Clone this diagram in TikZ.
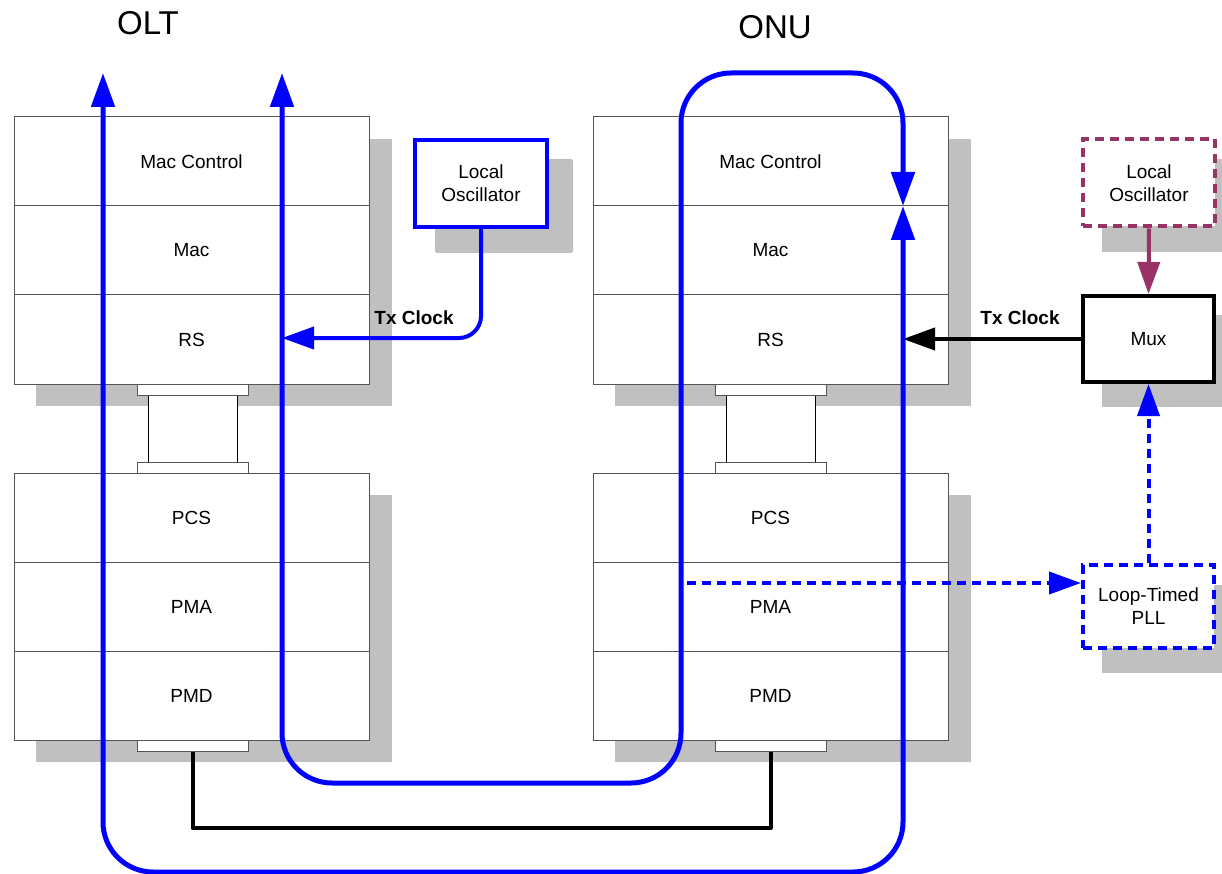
\documentclass[tikz,border=0pt]{standalone}
\usepackage{fontspec}
\setmainfont{Liberation Sans}
\usetikzlibrary{arrows.meta}
\definecolor{pureblue}{RGB}{0,0,255}
\definecolor{plum}{RGB}{153,51,102}
\definecolor{shade}{RGB}{192,192,192}
\definecolor{edge}{RGB}{85,85,85}
\tikzset{
  bigtip/.tip={Triangle[length=34pt,width=23pt]},
  smalltip/.tip={Triangle[length=32pt,width=22pt]}
}
\begin{document}
\begin{tikzpicture}[x=1pt,y=-1pt,
  txt/.style={font=\fontsize{19}{23}\selectfont},
  layer/.style={txt,draw=edge,line width=1pt,fill=white,minimum width=355pt,minimum height=89pt,inner sep=0pt},
  flange/.style={draw=edge,line width=1pt,fill=white,minimum width=111pt,minimum height=11pt,inner sep=0pt},
  body/.style={draw=black,line width=1pt,fill=white,minimum width=89pt,minimum height=67pt,inner sep=0pt},
  sidebox/.style={txt,fill=white,minimum width=131pt,minimum height=86pt,inner sep=0pt,align=center},
  shadowbox/.style={fill=shade},
  bluepath/.style={draw=pureblue,line width=5pt,rounded corners=50pt},
  clocklbl/.style={font=\bfseries\fontsize{19}{23}\selectfont},
  title/.style={font=\fontsize{33}{36}\selectfont}
]
\useasboundingbox (0,0) rectangle (1222,874);

% shadows
\fill[shadowbox] (36,139) rectangle (392,406);
\fill[shadowbox] (36,495) rectangle (392,762);
\fill[shadowbox] (615,139) rectangle (971,406);
\fill[shadowbox] (615,495) rectangle (971,762);
\fill[shadowbox,rounded corners=2pt] (435,159) rectangle (573,253);
\fill[shadowbox] (1102,159) rectangle (1240,252);
\fill[shadowbox] (1102,315) rectangle (1240,407);
\fill[shadowbox] (1102,585) rectangle (1240,673);

% titles
\node[title] (olttitle) at (148,23) {OLT};
\node[title] (onutitle) at (775,27) {ONU};

% OLT stack
\node[layer] (oltmc) at (191.5,161.5) {Mac Control};
\node[layer] (oltmac) at (191.5,250.5) {Mac};
\node[layer] (oltrs) at (191.5,339.5) {RS};
\node[layer] (oltpcs) at (191.5,517.5) {PCS};
\node[layer] (oltpma) at (191.5,606.5) {PMA};
\node[layer] (oltpmd) at (191.5,695.5) {PMD};
\node[body] (oltbody) at (192.5,428.5) {};
\node[flange] (oltfup) at (192.5,389.5) {};
\node[flange] (oltflo) at (192.5,467.5) {};
\node[flange] (oltport) at (192.5,745.5) {};

% ONU stack
\node[layer] (onumc) at (770.5,161.5) {Mac Control};
\node[layer] (onumac) at (770.5,250.5) {Mac};
\node[layer] (onurs) at (770.5,339.5) {RS};
\node[layer] (onupcs) at (770.5,517.5) {PCS};
\node[layer] (onupma) at (770.5,606.5) {PMA};
\node[layer] (onupmd) at (770.5,695.5) {PMD};
\node[body] (onubody) at (771,428.5) {};
\node[flange] (onufup) at (771,389.5) {};
\node[flange] (onuflo) at (771,467.5) {};
\node[flange] (onuport) at (771,745.5) {};

% fibre between ports
\coordinate (fibl) at (192.5,828);
\coordinate (fibr) at (771,828);
\draw[black,line width=4pt,line join=round] (oltport.south) -- (fibl) -- (fibr) -- (onuport.south);

% OLT local oscillator
\node[sidebox,draw=pureblue,line width=4pt,minimum width=132pt,minimum height=87pt] (oltosc) at (481,183.5) {Local\\Oscillator};
\coordinate (oltrsin) at (282,338);
\draw[pureblue,line width=4pt,rounded corners=22pt,-smalltip] (oltosc.south) |- (oltrsin);
\node[clocklbl] (oltclk) at (414,318) {Tx Clock};

% ONU side boxes
\node[sidebox,draw=plum,line width=4pt,dash pattern=on 9pt off 6pt,minimum width=132pt,minimum height=87pt] (onuosc) at (1149,183) {Local\\Oscillator};
\node[sidebox,draw=black,line width=4pt] (mux) at (1148.5,339) {Mux};
\node[sidebox,draw=pureblue,line width=4pt,dash pattern=on 9pt off 6pt,minimum height=83pt] (pll) at (1148.5,606.5) {Loop-Timed\\PLL};

\draw[plum,line width=4pt,-smalltip] (onuosc.south) -- (mux.north);
\draw[pureblue,line width=4pt,dash pattern=on 9pt off 6pt,-smalltip] (pll.north) -- (mux.south);
\coordinate (onursin) at (903,339);
\draw[black,line width=4pt,-smalltip] (mux.west) -- (onursin);
\node[clocklbl] (onuclk) at (1020,318) {Tx Clock};

\coordinate (pllsrc) at (687,583);
\draw[pureblue,line width=4pt,dash pattern=on 9pt off 6pt,-smalltip] (pllsrc) -- (pllsrc -| pll.west);

% blue data paths
\coordinate (o1) at (103,73);
\coordinate (o2) at (103,872);
\coordinate (o3) at (903,872);
\coordinate (meet) at (903,206);
\draw[bluepath,bigtip-bigtip] (o1) -- (o2) -- (o3) -- (meet);

\coordinate (i1) at (282,73);
\coordinate (i2) at (282,783);
\coordinate (i3) at (681,783);
\coordinate (i4) at (681,73);
\coordinate (i5) at (903,73);
\draw[bluepath,bigtip-bigtip] (i1) -- (i2) -- (i3) -- (i4) -- (i5) -- (meet);
\end{tikzpicture}
\end{document}
